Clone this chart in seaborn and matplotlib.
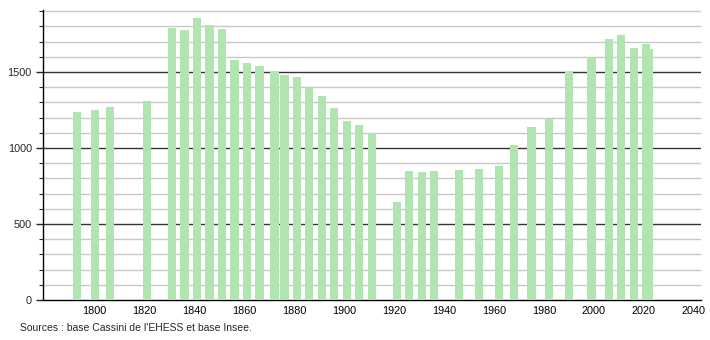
import matplotlib
matplotlib.use("Agg")
import matplotlib.pyplot as plt
import seaborn as sns
import pandas as pd
from matplotlib.ticker import MultipleLocator

years = [1793, 1800, 1806, 1821, 1831, 1836, 1841, 1846, 1851, 1856, 1861, 1866,
         1872, 1876, 1881, 1886, 1891, 1896, 1901, 1906, 1911, 1921, 1926, 1931,
         1936, 1946, 1954, 1962, 1968, 1975, 1982, 1990, 1999, 2006, 2011, 2016,
         2021, 2022]
population = [1240, 1250, 1272, 1309, 1787, 1776, 1853, 1809, 1783, 1579, 1557, 1539,
              1507, 1480, 1467, 1397, 1342, 1265, 1178, 1151, 1096, 647, 849, 844,
              846, 855, 862, 882, 1020, 1136, 1191, 1507, 1601, 1717, 1743, 1656,
              1684, 1649]
x_ticks = [1800, 1820, 1840, 1860, 1880, 1900, 1920, 1940, 1960, 1980, 2000, 2020, 2040]
y_ticks = [0, 500, 1000, 1500]
source_text = "Sources : base Cassini de l'EHESS et base Insee."

df = pd.DataFrame({"year": years, "population": population})

sns.set_style("white")
plt.rcParams["font.family"] = ["Liberation Sans", "DejaVu Sans"]

fig = plt.figure(figsize=(7.1, 3.4), dpi=100)
ax = fig.add_axes([43 / 710, 1 - 300 / 340, (701 - 43) / 710, (300 - 10) / 340])

sns.barplot(data=df, x="year", y="population", native_scale=True, width=3.3,
            color="#b0e4b0", saturation=1, edgecolor="none", ax=ax, zorder=3)

ax.set_xlim(1779.3, 2042.9)
ax.set_ylim(0, 1908)

# gridlines
for v in range(100, 2000, 100):
    if v % 500 == 0:
        ax.axhline(v, color="#333333", lw=1.0, zorder=1)
    else:
        ax.axhline(v, color="#c8c8c8", lw=1.0, zorder=1)

ax.set_xticks(x_ticks)
ax.set_xticklabels([str(t) for t in x_ticks])
ax.set_yticks(y_ticks)
ax.set_yticklabels([str(t) for t in y_ticks])
ax.yaxis.set_minor_locator(MultipleLocator(100))
ax.tick_params(axis="x", length=0, labelsize=7.8, pad=4, colors="#000000")
ax.tick_params(axis="y", which="major", length=5, width=1, labelsize=7.8, pad=3, left=True)
ax.tick_params(axis="y", which="minor", length=3, width=0.8, left=True)

for s in ["top", "right"]:
    ax.spines[s].set_visible(False)
ax.spines["left"].set_color("black")
ax.spines["bottom"].set_color("black")
ax.spines["left"].set_linewidth(1)
ax.spines["bottom"].set_linewidth(1)
ax.set_xlabel("")
ax.set_ylabel("")

fig.text(20 / 710, 1 - 328 / 340, source_text, fontsize=7.5, va="center", ha="left")

fig.savefig("out.png", dpi=100)
